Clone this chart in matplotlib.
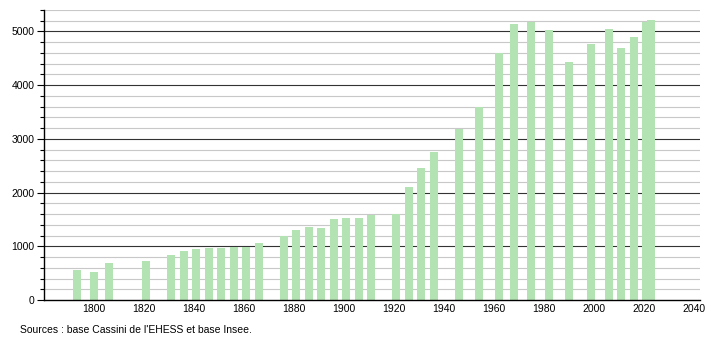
import numpy as np
import matplotlib.pyplot as plt
from matplotlib.ticker import MultipleLocator

# Census years and population
years = [1793, 1800, 1806, 1821, 1831, 1836, 1841, 1846, 1851, 1856,
         1861, 1866, 1876, 1881, 1886, 1891, 1896, 1901, 1906, 1911,
         1921, 1926, 1931, 1936, 1946, 1954, 1962, 1968, 1975, 1982,
         1990, 1999, 2006, 2011, 2016, 2021, 2023]
population = [561, 524, 692, 729, 842, 916, 941, 960, 960, 991,
              991, 1066, 1191, 1297, 1365, 1347, 1515, 1534, 1534, 1577,
              1608, 2113, 2450, 2749, 3186, 3603, 4607, 5143, 5181, 5031,
              4433, 4769, 5050, 4695, 4900, 5181, 5212]

x_ticks = list(range(1800, 2041, 20))
y_ticks = list(range(0, 5001, 1000))
source_text = "Sources : base Cassini de l'EHESS et base Insee."

plt.rcParams["font.family"] = ["Liberation Sans", "DejaVu Sans"]

fig = plt.figure(figsize=(7.1, 3.4), dpi=100)
ax = fig.add_axes([0.062, 0.1176, 0.924, 0.853])

# Grid: light minor lines every 200, dark major lines every 1000
for y in np.arange(200, 5401, 200):
    if y % 1000 == 0:
        ax.axhline(y, color="#333333", linewidth=0.8, zorder=1)
    else:
        ax.axhline(y, color="#c8c8c8", linewidth=0.8, zorder=1)

ax.bar(years, population, width=3.2, color="#b3e3b3", zorder=2)

ax.set_xlim(1780, 2042.5)
ax.set_ylim(0, 5400)
ax.set_xticks(x_ticks)
ax.set_yticks(y_ticks)
ax.yaxis.set_minor_locator(MultipleLocator(200))
ax.tick_params(axis="x", length=0, labelsize=7.5, pad=3)
ax.tick_params(axis="y", which="major", length=5, width=0.8, labelsize=7.5, pad=2)
ax.tick_params(axis="y", which="minor", length=3, width=0.8)

for side in ["top", "right"]:
    ax.spines[side].set_visible(False)
for side in ["left", "bottom"]:
    ax.spines[side].set_linewidth(1.0)
    ax.spines[side].set_color("black")
    ax.spines[side].set_zorder(3)

fig.text(20 / 710, 1 - 330 / 340, source_text, fontsize=7.5, va="center", ha="left")

fig.savefig("out.png", dpi=100)
